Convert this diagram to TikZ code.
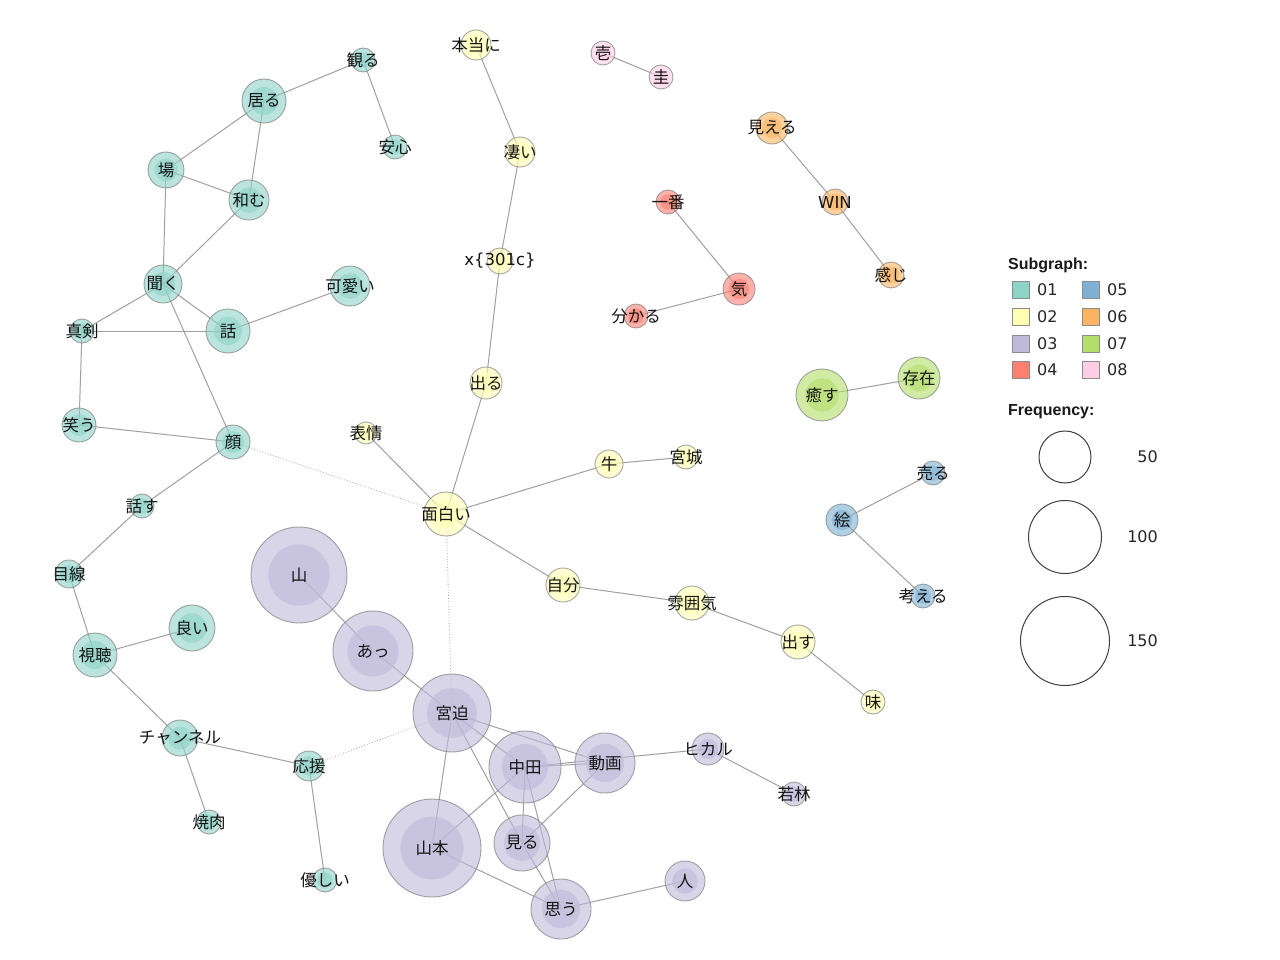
\documentclass[tikz,border=0pt]{standalone}
\usepackage{fontspec}
\newfontfamily\jp{Noto Sans CJK JP}
\newfontfamily\lgb{Liberation Sans}
\newfontfamily\lgt{DejaVu Sans}
\pgfdeclarelayer{bg}
\pgfdeclarelayer{edges}
\pgfsetlayers{bg,edges,main}
\definecolor{cA}{HTML}{8DD3C7}
\definecolor{cB}{HTML}{FFFFB3}
\definecolor{cC}{HTML}{BEBADA}
\definecolor{cD}{HTML}{FB8072}
\definecolor{cE}{HTML}{80B1D3}
\definecolor{cF}{HTML}{FDB462}
\definecolor{cG}{HTML}{B3DE69}
\definecolor{cH}{HTML}{FCCDE5}
\definecolor{edgecol}{HTML}{A0A0A0}
\tikzset{
  wcirc/.style={circle, inner sep=0pt, fill opacity=.6, draw=black!50, draw opacity=.7, line width=.9pt},
  wlab/.style={font=\jp\fontsize{16.5}{16.5}\selectfont, text=black!92, inner sep=0pt},
  latlab/.style={font=\lgt\fontsize{16.5}{16.5}\selectfont},
  edge/.style={draw=edgecol, line width=1pt},
  dotedge/.style={draw=black!35, line width=.8pt, dotted},
  lbox/.style={draw=black!45, line width=.9pt, minimum size=17pt, inner sep=0pt},
  ltext/.style={font=\lgt\fontsize{16}{16}\selectfont, text=black!85, inner sep=0pt, anchor=west},
  lhead/.style={font=\lgb\bfseries\fontsize{16}{16}\selectfont, text=black!90, inner sep=0pt, anchor=west},
  fcirc/.style={circle, draw=black!75, line width=1pt, inner sep=0pt}
}
\newcommand\wn[6]{%
  \node[wcirc, fill=#5, minimum size=#4*2pt] (#1) at (#2,#3) {};
  \fill[#5, fill opacity=.6] (#1.center) circle[radius=#4*0.64pt];
  \node[wlab] (#1-l) at (#1.center) {#6};
}
\begin{document}
\begin{tikzpicture}[x=1pt,y=-1pt]
\begin{pgfonlayer}{bg}
\fill[white] (0,0) rectangle (1280,960);
\end{pgfonlayer}
\useasboundingbox (0,0) rectangle (1280,960);
% cluster 01
\wn{miru2}{363}{60}{12}{cA}{観る}
\wn{iru}{264}{101}{22}{cA}{居る}
\wn{anshin}{395}{147}{12}{cA}{安心}
\wn{ba}{166}{170}{18}{cA}{場}
\wn{nagomu}{249}{200}{20}{cA}{和む}
\wn{kiku}{163}{284}{19}{cA}{聞く}
\wn{kawaii}{350}{286}{20}{cA}{可愛い}
\wn{shinken}{82}{331}{12}{cA}{真剣}
\wn{hanashi}{228}{331}{22}{cA}{話}
\wn{warau}{79}{425}{17}{cA}{笑う}
\wn{kao}{233}{442}{17}{cA}{顔}
\wn{hanasu}{142}{506}{12}{cA}{話す}
\wn{mesen}{69}{574}{14}{cA}{目線}
\wn{yoi}{192}{628}{23}{cA}{良い}
\wn{shicho}{95}{655}{22}{cA}{視聴}
\wn{channel}{180}{738}{18}{cA}{チャンネル}
\wn{oen}{309}{766}{15}{cA}{応援}
\wn{yakiniku}{209}{822}{12}{cA}{焼肉}
\wn{yasashii}{325}{880}{12}{cA}{優しい}
% cluster 02
\wn{hontou}{476}{45}{15}{cB}{本当に}
\wn{sugoi}{520}{152}{15}{cB}{凄い}
\wn{xw}{500}{261}{13}{cB}{{\lgt x\{301c\}}}
\wn{deru}{486}{383}{16}{cB}{出る}
\wn{hyojo}{366}{433}{11}{cB}{表情}
\wn{omoshiroi}{446}{514}{22}{cB}{面白い}
\wn{ushi}{609}{464}{14}{cB}{牛}
\wn{miyagi}{686}{457}{12}{cB}{宮城}
\wn{jibun}{563}{585}{17}{cB}{自分}
\wn{fun}{692}{603}{17}{cB}{雰囲気}
\wn{dasu}{798}{642}{17}{cB}{出す}
\wn{aji}{873}{702}{12}{cB}{味}
% cluster 03
\wn{yama}{299}{575}{48}{cC}{山}
\wn{att}{373}{651}{40}{cC}{あっ}
\wn{miyasako}{452}{713}{39}{cC}{宮迫}
\wn{nakata}{525}{767}{36}{cC}{中田}
\wn{douga}{605}{763}{30}{cC}{動画}
\wn{hikaru}{708}{749}{16}{cC}{ヒカル}
\wn{wakabayashi}{794}{794}{12}{cC}{若林}
\wn{yamamoto}{432}{848}{49}{cC}{山本}
\wn{miru}{522}{843}{28}{cC}{見る}
\wn{omou}{561}{909}{30}{cC}{思う}
\wn{hito}{685}{881}{20}{cC}{人}
% cluster 04
\wn{ichiban}{668}{202}{12}{cD}{一番}
\wn{ki}{739}{289}{16}{cD}{気}
\wn{wakaru}{636}{316}{12}{cD}{分かる}
% cluster 05
\wn{uru}{933}{473}{12}{cE}{売る}
\wn{e}{842}{520}{16}{cE}{絵}
\wn{kangaeru}{923}{596}{12}{cE}{考える}
% cluster 06
\wn{mieru}{772}{128}{16}{cF}{見える}
\wn{win}{835}{202}{13}{cF}{{\lgt WIN}}
\wn{kanji}{891}{275}{13}{cF}{感じ}
% cluster 07
\wn{iyasu}{822}{395}{26}{cG}{癒す}
\wn{sonzai}{919}{378}{21}{cG}{存在}
% cluster 08
\wn{ichi}{603}{53}{12}{cH}{壱}
\wn{kei}{661}{77}{12}{cH}{圭}
% edges
\begin{pgfonlayer}{edges}
\foreach \a/\b in {miru2/iru, miru2/anshin, iru/ba, iru/nagomu, ba/nagomu, ba/kiku, nagomu/kiku,
  kiku/shinken, kiku/hanashi, kiku/kao, shinken/hanashi, hanashi/kawaii, shinken/warau, warau/kao,
  kao/hanasu, hanasu/mesen, mesen/shicho, shicho/yoi, shicho/channel, channel/yakiniku, channel/oen,
  oen/yasashii,
  hontou/sugoi, sugoi/xw, xw/deru, deru/omoshiroi, hyojo/omoshiroi, omoshiroi/ushi, ushi/miyagi,
  omoshiroi/jibun, jibun/fun, fun/dasu, dasu/aji,
  yama/att, att/miyasako, miyasako/nakata, miyasako/douga, miyasako/yamamoto, miyasako/miru,
  nakata/douga, nakata/hikaru, hikaru/wakabayashi, nakata/yamamoto, nakata/miru, nakata/omou,
  douga/miru, yamamoto/omou, miru/omou, omou/hito,
  ichiban/ki, ki/wakaru, e/uru, e/kangaeru, mieru/win, win/kanji, iyasu/sonzai, ichi/kei}
  \draw[edge] (\a.center) -- (\b.center);
\draw[dotedge] (kao.center) -- (omoshiroi.center);
\draw[dotedge] (omoshiroi.center) -- (miyasako.center);
\draw[dotedge] (oen.center) -- (miyasako.center);
\end{pgfonlayer}
% legend
\node[lhead] (sg) at (1008,265) {Subgraph:};
\node[lbox, fill=cA] (b1) at (1021,290) {};
\node[lbox, fill=cB] (b2) at (1021,317) {};
\node[lbox, fill=cC] (b3) at (1021,344) {};
\node[lbox, fill=cD] (b4) at (1021,370) {};
\node[lbox, fill=cE] (b5) at (1091,290) {};
\node[lbox, fill=cF] (b6) at (1091,317) {};
\node[lbox, fill=cG] (b7) at (1091,344) {};
\node[lbox, fill=cH] (b8) at (1091,370) {};
\node[ltext] (t1) at (1037,290) {01};
\node[ltext] (t2) at (1037,317) {02};
\node[ltext] (t3) at (1037,344) {03};
\node[ltext] (t4) at (1037,370) {04};
\node[ltext] (t5) at (1107,290) {05};
\node[ltext] (t6) at (1107,317) {06};
\node[ltext] (t7) at (1107,344) {07};
\node[ltext] (t8) at (1107,370) {08};
\node[lhead] (fq) at (1008,412) {Frequency:};
\node[fcirc, minimum size=52pt] (f50) at (1065,457) {};
\node[fcirc, minimum size=73pt] (f100) at (1065,537) {};
\node[fcirc, minimum size=89pt] (f150) at (1065,641) {};
\node[ltext, anchor=east] (l50) at (1158,457) {50};
\node[ltext, anchor=east] (l100) at (1158,537) {100};
\node[ltext, anchor=east] (l150) at (1158,641) {150};
\end{tikzpicture}
\end{document}
